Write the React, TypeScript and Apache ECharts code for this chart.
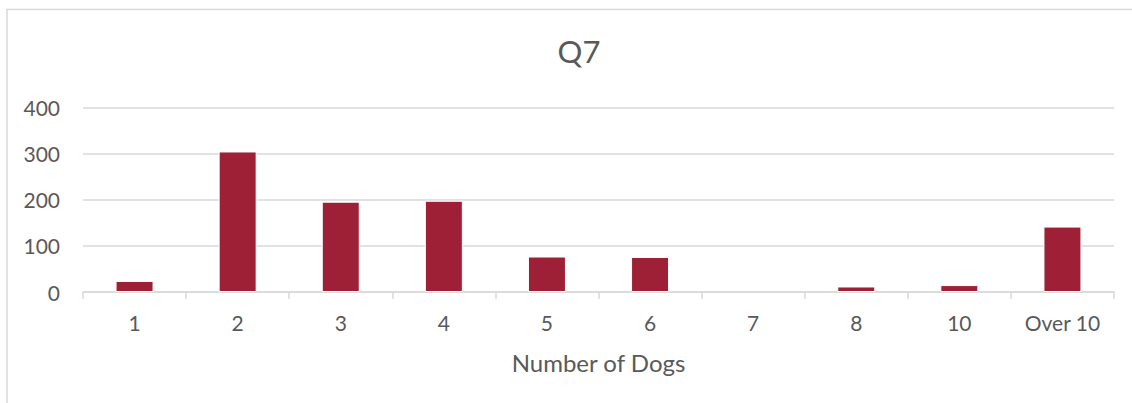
import React, { useEffect, useRef } from "react";
import * as echarts from "echarts";

const titleText = "Q7";
const categories = ["1", "2", "3", "4", "5", "6", "7", "8", "10", "Over 10"];
const counts = [24, 305, 196, 198, 77, 76, 0, 12, 15, 142];
const yTicks = { min: 0, max: 400, interval: 100 };
const xAxisName = "Number of Dogs";

const FONT = "Lato, 'Noto Sans', sans-serif";
const TEXT = "#595959";
const GRID = "#d9d9d9";
const BAR = "#9E2036";

export default function App() {
  const ref = useRef<HTMLDivElement>(null);
  useEffect(() => {
    if (!ref.current) return;
    const chart = echarts.init(ref.current, undefined, { renderer: "svg" });
    chart.setOption({
      animation: false,
      backgroundColor: "#ffffff",
      title: {
        text: titleText,
        left: 574,
        top: 30,
        textAlign: "center",
        textStyle: { fontFamily: FONT, fontSize: 31, fontWeight: "normal", color: TEXT },
      },
      graphic: [
        {
          type: "polyline",
          silent: true,
          shape: { points: [[7, 403], [7, 9.5], [1132, 9.5]] },
          style: { stroke: GRID, lineWidth: 1.5, fill: null },
        },
      ],
      grid: { left: 83, right: 18, top: 107.7, bottom: 111 },
      xAxis: {
        type: "category",
        data: categories,
        name: xAxisName,
        nameLocation: "middle",
        nameGap: 58,
        nameTextStyle: { fontFamily: FONT, fontSize: 24, color: TEXT },
        axisLine: { lineStyle: { color: GRID, width: 1.5 } },
        axisTick: { show: true, length: 7, lineStyle: { color: GRID, width: 1.5 } },
        axisLabel: { fontFamily: FONT, fontSize: 21, color: TEXT, margin: 20, interval: 0 },
      },
      yAxis: {
        type: "value",
        min: yTicks.min,
        max: yTicks.max,
        interval: yTicks.interval,
        axisLine: { show: false },
        axisTick: { show: false },
        axisLabel: { fontFamily: FONT, fontSize: 21, color: TEXT, margin: 23 },
        splitLine: { lineStyle: { color: GRID, width: 1.5 } },
      },
      series: [
        {
          type: "bar",
          data: counts.map((v) => ({
            value: v,
            itemStyle: v === 0 ? { borderWidth: 0 } : undefined,
          })),
          barWidth: 38,
          itemStyle: { color: BAR, borderColor: "#ffffff", borderWidth: 1 },
        },
      ],
    });
    return () => chart.dispose();
  }, []);
  return (
    <div
      ref={ref}
      style={{ position: "fixed", left: 0, top: 0, width: 1132, height: 403 }}
    />
  );
}
